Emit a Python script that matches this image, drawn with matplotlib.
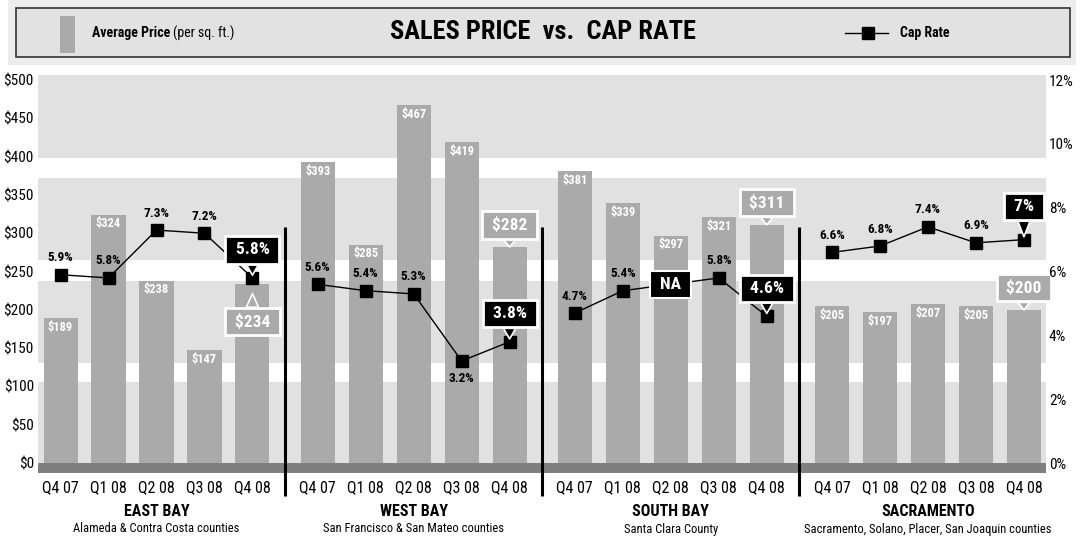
import numpy as np
import matplotlib
matplotlib.use("Agg")
import matplotlib.pyplot as plt
from matplotlib import font_manager
from matplotlib.patches import Rectangle
from matplotlib.lines import Line2D

# ---------------- data ----------------
quarters = ["Q4 07", "Q1 08", "Q2 08", "Q3 08", "Q4 08"]
regions = ["EAST BAY", "WEST BAY", "SOUTH BAY", "SACRAMENTO"]
region_subtitles = ["Alameda & Contra Costa counties",
                    "San Francisco & San Mateo counties",
                    "Santa Clara County",
                    "Sacramento, Solano, Placer, San Joaquin counties"]
price_east = [189, 324, 238, 147, 234]
price_west = [393, 285, 467, 419, 282]
price_south = [381, 339, 297, 321, 311]
price_sac = [205, 197, 207, 205, 200]
cap_east = [5.9, 5.8, 7.3, 7.2, 5.8]
cap_west = [5.6, 5.4, 5.3, 3.2, 3.8]
cap_south = [4.7, 5.4, None, 5.8, 4.6]   # Q2 08 = NA
cap_sac = [6.6, 6.8, 7.4, 6.9, 7.0]
price_ticks = [0, 50, 100, 150, 200, 250, 300, 350, 400, 450, 500]
cap_ticks = [0, 2, 4, 6, 8, 10, 12]

prices = [price_east, price_west, price_south, price_sac]
caps = [cap_east, cap_west, cap_south, cap_sac]

# ---------------- style ----------------
names = {f.name for f in font_manager.fontManager.ttflist}
if "Liberation Sans Narrow" in names:
    FONT, S = "Liberation Sans Narrow", 1.0
elif "Roboto Condensed" in names:
    FONT, S = "Roboto Condensed", 1.0
else:
    FONT, S = "Liberation Sans", 0.85
plt.rcParams["font.family"] = [FONT, "DejaVu Sans"]

BAR_C = "#aaaaaa"
BAND_C = "#e1e1e1"
STRIP_C = "#7f7f7f"
W, H = 1080, 537
GROUP_STEP = 5.36
BAR_W = 0.71

fig = plt.figure(figsize=(W / 100, H / 100), dpi=100)
fig.patch.set_facecolor("white")


def fx(x):
    return x / W


def fy(y):
    return 1 - y / H


# ---------------- header ----------------
fig.add_artist(Rectangle((fx(8), fy(65)), fx(1076 - 8), 65 / H, transform=fig.transFigure,
                         fc="#ededed", ec="none", zorder=0))
fig.add_artist(Rectangle((fx(16), fy(57)), fx(1070 - 16), (57 - 8) / H, transform=fig.transFigure,
                         fc="#e2e2e2", ec="#333333", lw=1.2, zorder=1))
fig.add_artist(Rectangle((fx(60), fy(53)), fx(15), 37 / H, transform=fig.transFigure,
                         fc=BAR_C, ec="none", zorder=2))
t1 = fig.text(fx(92), fy(33), "Average Price", fontsize=10 * S, fontweight="bold",
              ha="left", va="center", zorder=3)
r = fig.canvas.get_renderer()
bb = t1.get_window_extent(renderer=r)
fig.text(bb.x1 / W + fx(3), fy(33), "(per sq. ft.)", fontsize=10 * S,
         ha="left", va="center", zorder=3)
fig.text(fx(543), fy(32), "SALES PRICE  vs.  CAP RATE", fontsize=19 * S, fontweight="bold",
         ha="center", va="center", zorder=3)
fig.add_artist(Line2D([fx(845), fx(888)], [fy(33), fy(33)], color="black", lw=1,
                      transform=fig.transFigure, zorder=3))
fig.add_artist(Line2D([fx(868)], [fy(33)], marker="s", ms=8.5, color="black",
                      transform=fig.transFigure, zorder=4))
fig.text(fx(900), fy(33), "Cap Rate", fontsize=10 * S, fontweight="bold",
         ha="left", va="center", zorder=3)

# ---------------- axes ----------------
ax = fig.add_axes([fx(38), (H - 473) / H, fx(1008), (473 - 75) / H])
YMIN, YMAX = -13, 506.6
ax.set_ylim(YMIN, YMAX)
ax.set_xlim(-0.47, 3 * GROUP_STEP + 4 + 0.46)
for s in ax.spines.values():
    s.set_visible(False)

# background bands and base strip
for lo, hi in [(0, 106), (131, 238), (265, 372), (398, YMAX)]:
    ax.axhspan(lo, hi, color=BAND_C, lw=0, zorder=0)
ax.axhspan(YMIN, 0, color=STRIP_C, lw=0, zorder=1)

ax2 = ax.twinx()
ax2.set_ylim(YMIN * 12 / 500, YMAX * 12 / 500)
for s in ax2.spines.values():
    s.set_visible(False)

CALL_FS = 12.5 * S
xs_all = []
for g in range(4):
    xs = [i + g * GROUP_STEP for i in range(5)]
    xs_all += xs
    ax.bar(xs, prices[g], width=BAR_W, color=BAR_C, zorder=2)
    for i, (x, v) in enumerate(zip(xs, prices[g])):
        if i < 4:
            ax.annotate(f"${v}", (x, v), xytext=(0, -9), textcoords="offset pixels",
                        ha="center", va="center", color="white", fontweight="bold",
                        fontsize=9 * S, zorder=3)
    # cap rate line (only valid points)
    cx = [x for x, c in zip(xs, caps[g]) if c is not None]
    cy = [c for c in caps[g] if c is not None]
    ax2.plot(cx, cy, color="black", lw=1, marker="s", ms=8.5, zorder=5)
    for i, (x, c) in enumerate(zip(xs, caps[g])):
        if c is None or i == 4:
            continue
        dy = -18 if (g == 1 and i == 3) else 17
        ax2.annotate(f"{c:g}%", (x, c), xytext=(0, dy), textcoords="offset pixels",
                     ha="center", va="center", color="black", fontweight="bold",
                     fontsize=9.5 * S, zorder=6)
    # NA box
    for i, c in enumerate(caps[g]):
        if c is None:
            ymid = (caps[g][i - 1] + caps[g][i + 1]) / 2
            ax2.text(xs[i], ymid, " NA ", ha="center", va="center", color="white",
                     fontweight="bold", fontsize=CALL_FS, zorder=7,
                     bbox=dict(boxstyle="square,pad=0.35", fc="black", ec="white", lw=1.5))
    # callouts for last quarter
    x4, p4, c4 = xs[4], prices[g][4], caps[g][4]
    pdy = -38 if g == 0 else 22
    pshrink = 7 if g == 0 else 0
    ax.annotate(f" ${p4} ", (x4, p4), xytext=(0, pdy), textcoords="offset pixels",
                ha="center", va="center", color="white", fontweight="bold",
                fontsize=CALL_FS, zorder=8,
                bbox=dict(boxstyle="square,pad=0.32", fc=BAR_C, ec="white", lw=2),
                arrowprops=dict(arrowstyle="wedge,tail_width=0.7", fc=BAR_C, ec="white",
                                lw=1.2, shrinkA=0, shrinkB=pshrink))
    cdy = 33 if g == 3 else 28
    ax2.annotate(f" {c4:g}% ", (x4, c4), xytext=(0, cdy), textcoords="offset pixels",
                 ha="center", va="center", color="white", fontweight="bold",
                 fontsize=CALL_FS, zorder=9,
                 bbox=dict(boxstyle="square,pad=0.35", fc="black", ec="white", lw=2),
                 arrowprops=dict(arrowstyle="wedge,tail_width=0.7", fc="black", ec="white",
                                 lw=1.2, shrinkA=0, shrinkB=2))

# dividers between regions
for g in range(3):
    xd = (4 + g * GROUP_STEP + (g + 1) * GROUP_STEP) / 2
    ax.plot([xd, xd], [308, -43], color="black", lw=2.2, zorder=4, clip_on=False,
            solid_capstyle="butt")

# axis ticks
ax.set_xticks(xs_all, labels=quarters * 4)
ax.tick_params(axis="x", length=0, pad=5, labelsize=11.5 * S)
ax.set_yticks(price_ticks, labels=[f"${v}" for v in price_ticks])
ax.tick_params(axis="y", length=0, pad=3, labelsize=11 * S)
ax2.set_yticks(cap_ticks, labels=[f"{v}%" for v in cap_ticks])
ax2.tick_params(axis="y", length=0, pad=2, labelsize=11 * S)

# region names
for g in range(4):
    xc = 2 + g * GROUP_STEP
    ax.text(xc, (473 - 511) / 398, regions[g], transform=ax.get_xaxis_transform(),
            ha="center", va="center", fontweight="bold", fontsize=11.5 * S)
    ax.text(xc, (473 - 529) / 398, region_subtitles[g], transform=ax.get_xaxis_transform(),
            ha="center", va="center", fontsize=9 * S)

fig.savefig("out.png", dpi=100)
